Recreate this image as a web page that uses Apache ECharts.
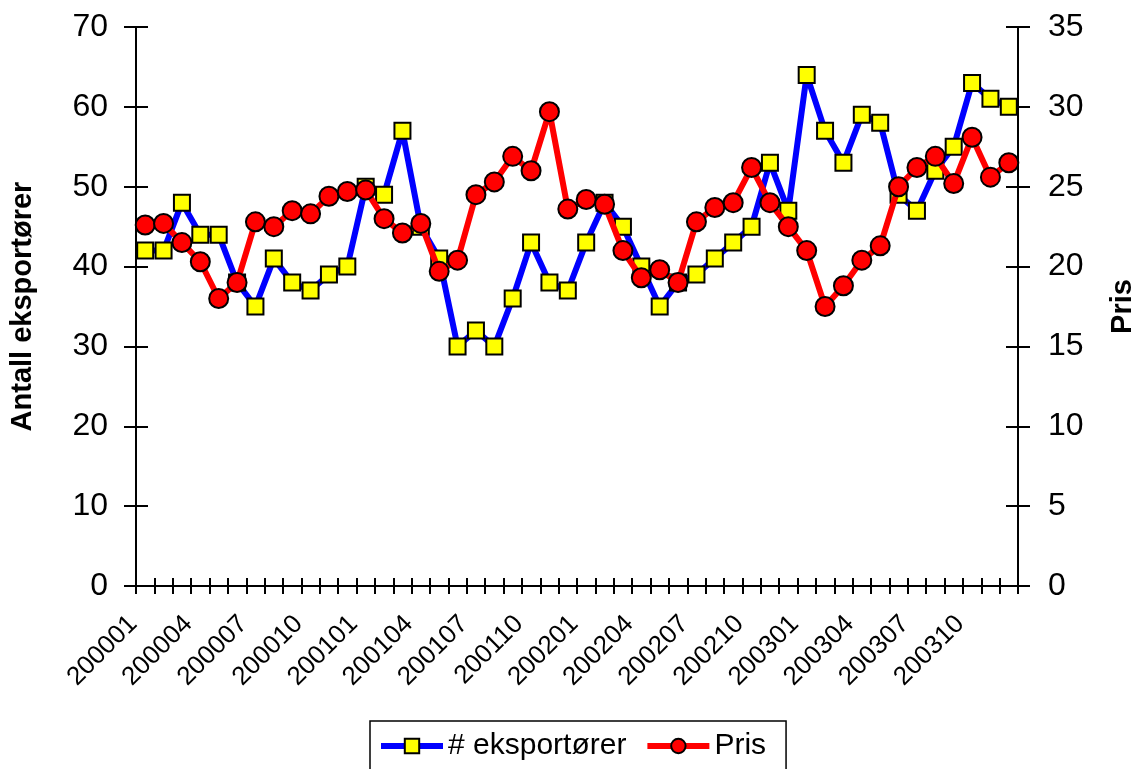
<!DOCTYPE html>
<html>
<head>
<meta charset="utf-8">
<script src="https://cdn.jsdelivr.net/npm/echarts@6/dist/echarts.min.js"></script>
<style>
  html, body { margin: 0; padding: 0; background: #fff; }
  #lineChart { width: 1136px; height: 769px; }
</style>
</head>
<body>
<div id="lineChart"></div>
<script>
var months = ['200001','200002','200003','200004','200005','200006','200007','200008','200009','200010','200011','200012',
              '200101','200102','200103','200104','200105','200106','200107','200108','200109','200110','200111','200112',
              '200201','200202','200203','200204','200205','200206','200207','200208','200209','200210','200211','200212',
              '200301','200302','200303','200304','200305','200306','200307','200308','200309','200310','200311','200312'];
var exporters = [42,42,48,44,44,38,35,41,38,37,39,40,50,49,57,45,41,30,32,30,36,43,38,37,
                 43,48,45,40,35,38,39,41,43,45,53,47,64,57,53,59,58,49,47,52,55,63,61,60];
var prices = [22.6,22.7,21.5,20.3,18.0,19.0,22.8,22.5,23.5,23.3,24.4,24.7,24.8,23.0,22.1,22.7,19.7,20.4,24.5,25.3,26.9,26.0,29.7,23.6,
              24.2,23.9,21.0,19.3,19.8,19.0,22.8,23.7,24.0,26.2,24.0,22.5,21.0,17.5,18.8,20.4,21.3,25.0,26.2,26.9,25.2,28.1,25.6,26.5];

var font = 'Liberation Sans, Arial, sans-serif';
var black = '#000';

var myChart = echarts.init(document.getElementById('lineChart'));

var option = {
    backgroundColor: '#fff',
    animation: false,
    textStyle: { fontFamily: font, color: black },
    grid: { left: 136, right: 118, top: 27, bottom: 183, outerBoundsMode: 'none' },
    legend: {
        data: ['# eksportører', 'Pris'],
        left: 370,
        top: 721,
        itemWidth: 62,
        itemHeight: 18,
        itemGap: 18,
        padding: [10, 20, 30, 8],
        borderColor: black,
        borderWidth: 1.5,
        lineStyle: { width: 6 },
        textStyle: { fontFamily: font, fontSize: 30, color: black }
    },
    xAxis: [
        {
            type: 'category',
            data: months,
            boundaryGap: true,
            axisLine: { lineStyle: { color: black, width: 2 } },
            axisTick: { show: true, interval: 0, length: 8, lineStyle: { color: black, width: 2 } },
            axisLabel: { interval: 2, rotate: 45, fontSize: 26, color: black, fontFamily: font, margin: 22, padding: [0, 17, 0, 0] }
        },
        {
            // inner half of the crossing ticks
            type: 'category',
            data: months,
            position: 'bottom',
            boundaryGap: true,
            axisLine: { show: false },
            axisTick: { show: true, inside: true, interval: 0, length: 8, lineStyle: { color: black, width: 2 } },
            axisLabel: { show: false }
        }
    ],
    yAxis: [
        {
            type: 'value',
            min: 0, max: 70, interval: 10,
            position: 'left',
            name: 'Antall eksportører',
            nameLocation: 'middle',
            nameGap: 99,
            nameTextStyle: { fontFamily: font, fontSize: 29, fontWeight: 'bold', color: black },
            splitLine: { show: false },
            axisLine: { show: true, lineStyle: { color: black, width: 2 } },
            axisTick: { show: true, length: 12, lineStyle: { color: black, width: 2 } },
            axisLabel: { fontSize: 32, color: black, fontFamily: font, margin: 28 }
        },
        {
            type: 'value',
            min: 0, max: 35, interval: 5,
            position: 'right',
            name: 'Pris',
            nameLocation: 'middle',
            nameGap: 90,
            nameTextStyle: { fontFamily: font, fontSize: 29, fontWeight: 'bold', color: black },
            splitLine: { show: false },
            axisLine: { show: true, lineStyle: { color: black, width: 2 } },
            axisTick: { show: true, length: 12, lineStyle: { color: black, width: 2 } },
            axisLabel: { fontSize: 32, color: black, fontFamily: font, margin: 30 }
        },
        {
            // inner halves of the left ticks
            type: 'value',
            min: 0, max: 70, interval: 10,
            position: 'left',
            splitLine: { show: false },
            axisLine: { show: false },
            axisTick: { show: true, inside: true, length: 12, lineStyle: { color: black, width: 2 } },
            axisLabel: { show: false }
        },
        {
            // inner halves of the right ticks
            type: 'value',
            min: 0, max: 35, interval: 5,
            position: 'right',
            splitLine: { show: false },
            axisLine: { show: false },
            axisTick: { show: true, inside: true, length: 12, lineStyle: { color: black, width: 2 } },
            axisLabel: { show: false }
        }
    ],
    series: [
        {
            name: '# eksportører',
            type: 'line',
            yAxisIndex: 0,
            z: 2,
            data: exporters,
            symbol: 'rect',
            symbolSize: 16,
            showAllSymbol: true,
            lineStyle: { color: '#0000ff', width: 6 },
            itemStyle: { color: '#ffff00', borderColor: black, borderWidth: 2 }
        },
        {
            name: 'Pris',
            type: 'line',
            yAxisIndex: 1,
            z: 3,
            data: prices,
            symbol: 'circle',
            symbolSize: 19,
            showAllSymbol: true,
            lineStyle: { color: '#ff0000', width: 6 },
            itemStyle: { color: '#ff0000', borderColor: black, borderWidth: 2 }
        }
    ]
};

myChart.setOption(option);
</script>
</body>
</html>
